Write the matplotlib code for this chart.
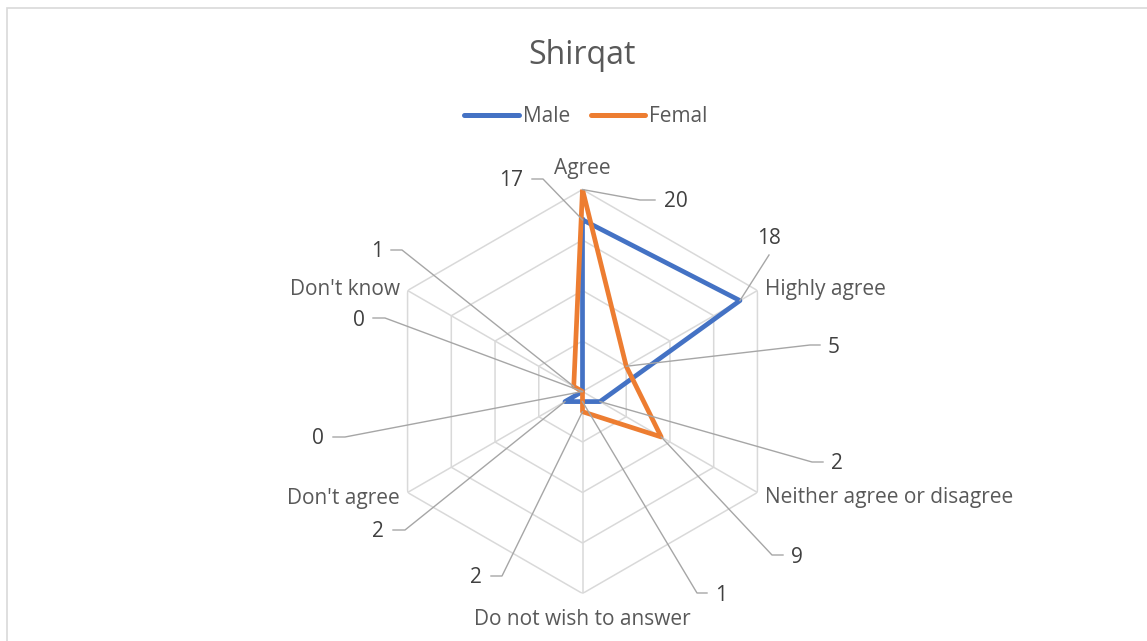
import numpy as np
import matplotlib
matplotlib.use("Agg")
from matplotlib import pyplot as plt
from matplotlib.lines import Line2D
from matplotlib.patches import Rectangle

# survey answers, clockwise from the top
categories = ["Agree", "Highly agree", "Neither agree or disagree",
              "Do not wish to answer", "Don't agree", "Don't know"]
male = [17, 18, 2, 1, 2, 0]
femal = [20, 5, 9, 2, 0, 1]
ring_levels = [5, 10, 15, 20]

W, H = 1147, 641
BLUE = "#4472C4"
ORANGE = "#ED7D31"
TXT = "#595959"
LBL = "#404040"
GRID = "#d9d9d9"
LEAD = "#a6a6a6"


def px(x, y):
    """pixel (top-left origin) -> figure fraction"""
    return x / W, 1 - y / H


plt.rcParams['font.family'] = ['Open Sans', 'DejaVu Sans']

fig = plt.figure(figsize=(W / 100, H / 100), dpi=100)
fig.patch.set_facecolor('white')

# chart border (only top / left inside the picture)
fig.add_artist(Rectangle(px(7, 700), 1.2, (700 - 8) / H, transform=fig.transFigure,
                         fill=False, edgecolor=GRID, lw=1.2))

# polar area: centre (582.5, 391.5), radius 202 px for 20
cx, cy, R = 582.5, 391.5, 202
ax = fig.add_axes([(cx - R) / W, (H - cy - R) / H, 2 * R / W, 2 * R / H],
                  projection='polar')
ax.set_theta_offset(np.pi / 2)
ax.set_theta_direction(-1)
ax.set_ylim(0, ring_levels[-1])
ax.grid(False)
ax.set_xticks([])
ax.set_yticks([])
ax.spines['polar'].set_visible(False)
ax.patch.set_alpha(0)

n = len(categories)
angles = np.arange(n) * 2 * np.pi / n
closed = np.append(angles, angles[0])

# hexagon grid
for lev in ring_levels:
    ax.plot(closed, [lev] * (n + 1), color=GRID, lw=1.1, zorder=1)
for a in angles:
    ax.plot([a, a], [0, ring_levels[-1]], color=GRID, lw=1.1, zorder=1)

ax.plot(closed, male + male[:1], color=BLUE, lw=3.4, solid_joinstyle='round',
        zorder=3, label='Male')
ax.plot(closed, femal + femal[:1], color=ORANGE, lw=3.4, solid_joinstyle='round',
        zorder=4, label='Femal')

# category labels
cat_pos = [(582.5, 174, 'center'), (765, 295, 'left'), (765, 503, 'left'),
           (582.5, 625, 'center'), (400, 504, 'right'), (400, 295, 'right')]
for name, (x, y, ha) in zip(categories, cat_pos):
    fig.text(*px(x, y), name, ha=ha, va='baseline', fontsize=15, color=TXT)

fig.text(*px(582.5, 64), "Shirqat", ha='center', va='baseline', fontsize=23, color=TXT)

handles = [Line2D([], [], color=BLUE, lw=3.6, solid_capstyle='round'),
           Line2D([], [], color=ORANGE, lw=3.6, solid_capstyle='round')]
leg = fig.legend(handles, ['Male', 'Femal'], loc='center', bbox_to_anchor=px(586, 117),
                 ncol=2, frameon=False, fontsize=15, handlelength=2.6,
                 handletextpad=0.2, columnspacing=1.0, borderpad=0)
for t in leg.get_texts():
    t.set_color(TXT)

# data labels: text centre x, baseline, leader segment (outer x, inner x, y)
male_lab = [(511, 186, 532, 543, 179), (769, 244, 769, 769, 255),
            (837, 469, 823, 812, 462), (721, 601, 707, 697, 593),
            (378, 537, 393, 405, 530), (359, 326, 373, 385, 318)]
fem_lab = [(676, 207, 655, 640, 200), (834, 353, 820, 810, 345),
           (797, 563, 783, 772, 555), (476, 583, 491, 502, 576),
           (318, 444, 333, 345, 437), (377, 257, 391, 402, 250)]

fig.canvas.draw()
to_fig = fig.transFigure.inverted()
for vals, labs in ((male, male_lab), (femal, fem_lab)):
    for a, v, (tx, ty, x0, x1, ly) in zip(angles, vals, labs):
        fig.text(*px(tx, ty), str(v), ha='center', va='baseline', fontsize=15, color=LBL)
        pt = to_fig.transform(ax.transData.transform((a, v)))
        p0 = px(x0, ly)
        p1 = px(x1, ly)
        fig.add_artist(Line2D([p0[0], p1[0], pt[0]], [p0[1], p1[1], pt[1]],
                              transform=fig.transFigure, color=LEAD, lw=1.0, zorder=5))

fig.savefig("out.png", dpi=100)
